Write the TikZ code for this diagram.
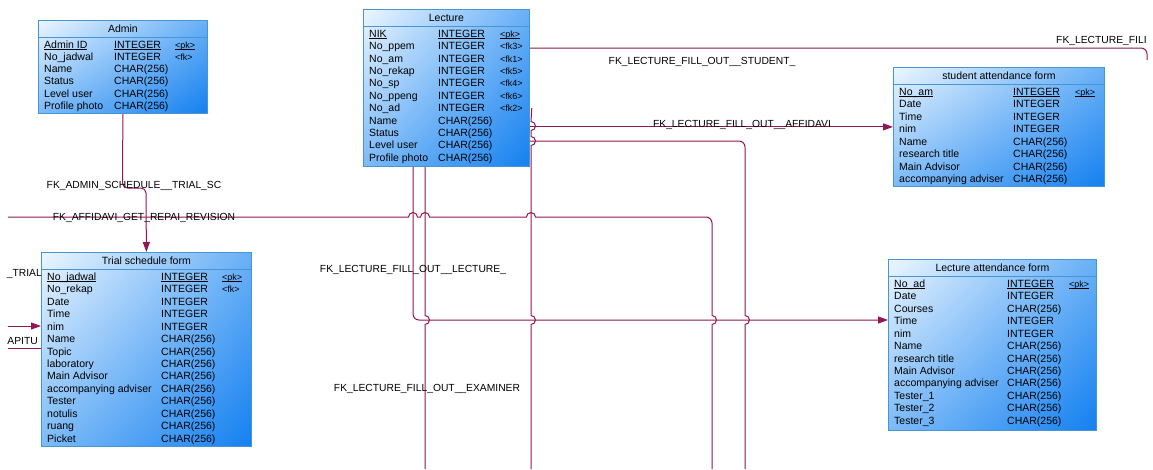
\documentclass[tikz,border=0pt]{standalone}
\usepackage{fontspec}
\setmainfont{Liberation Sans}
\usetikzlibrary{arrows.meta, positioning, shadings, calc}
\definecolor{fkline}{RGB}{145,22,82}
\definecolor{tblborder}{RGB}{70,150,215}
\definecolor{tblpale}{RGB}{236,246,255}
\definecolor{tblmid}{RGB}{105,176,246}
\definecolor{tbldeep}{RGB}{20,128,240}
% primary key underline, just under the baseline
\newcommand{\pkul}[1]{\setbox0\hbox{#1}\rlap{\rule[-1.3pt]{\wd0}{0.55pt}}#1}

\begin{document}
\begin{tikzpicture}[
  x=1pt, y=1pt,
  tbl/.style={rectangle, draw=tblborder, line width=0.8pt, inner sep=0pt, anchor=north west,
              upper left=tblpale, upper right=tblmid, lower left=tblmid!85!tblpale, lower right=tbldeep},
  ttl/.style={anchor=base, inner sep=0pt, font=\fontsize{10.5}{12}\selectfont},
  fld/.style={anchor=base west, inner sep=0pt, font=\fontsize{10.5}{12}\selectfont},
  fkey/.style={anchor=base west, inner sep=0pt, font=\fontsize{9}{10}\selectfont},
  sepline/.style={draw=tblborder, line width=0.8pt},
  fk/.style={draw=fkline, line width=1pt},
  fkarrow/.style={fk, -{Triangle[length=10pt, width=7pt]}},
  fklbl/.style={anchor=base, inner sep=0pt, font=\fontsize{10.3}{12}\selectfont}
]
\useasboundingbox (0,0) rectangle (1153,-469);

% Admin
\node[tbl, minimum width=169pt, minimum height=93pt] (admin) at (38,-20) {};
\node[ttl] (admin-ttl) at ([yshift=-12.6pt]admin.north) {Admin};
\draw[sepline] ([yshift=-17pt]admin.north west) -- ([yshift=-17pt]admin.north east);
\foreach \fname/\ftype/\fmark [count=\i from 0] in {
  \pkul{Admin ID}/\pkul{INTEGER}/\pkul{<pk>}, No\_jadwal/INTEGER/{<fk>},
  Name/CHAR(256)/{}, Status/CHAR(256)/{}, Level user/CHAR(256)/{}, Profile photo/CHAR(256)/{}}{
  \node[fld] (admin-n\i) at ([shift={(6,-28.3-12.2*\i)}]admin.north west) {\fname};
  \node[fld] (admin-t\i) at ([shift={(76,-28.3-12.2*\i)}]admin.north west) {\ftype};
  \node[fkey] (admin-k\i) at ([shift={(137,-28.3-12.2*\i)}]admin.north west) {\fmark};
}

% Lecture
\node[tbl, minimum width=166pt, minimum height=157pt] (lecture) at (363,-9) {};
\node[ttl] (lecture-ttl) at ([yshift=-12.6pt]lecture.north) {Lecture};
\draw[sepline] ([yshift=-17pt]lecture.north west) -- ([yshift=-17pt]lecture.north east);
\foreach \fname/\ftype/\fmark [count=\i from 0] in {
  \pkul{NIK}/\pkul{INTEGER}/\pkul{<pk>}, No\_ppem/INTEGER/{<fk3>},
  No\_am/INTEGER/{<fk1>}, No\_rekap/INTEGER/{<fk5>}, No\_sp/INTEGER/{<fk4>},
  No\_ppeng/INTEGER/{<fk6>}, No\_ad/INTEGER/{<fk2>}, Name/CHAR(256)/{},
  Status/CHAR(256)/{}, Level user/CHAR(256)/{}, Profile photo/CHAR(256)/{}}{
  \node[fld] (lecture-n\i) at ([shift={(6,-28.3-12.4*\i)}]lecture.north west) {\fname};
  \node[fld] (lecture-t\i) at ([shift={(75,-28.3-12.4*\i)}]lecture.north west) {\ftype};
  \node[fkey] (lecture-k\i) at ([shift={(137,-28.3-12.4*\i)}]lecture.north west) {\fmark};
}

% student attendance form
\node[tbl, minimum width=211pt, minimum height=119pt] (stud) at (893,-67) {};
\node[ttl] (stud-ttl) at ([yshift=-12.6pt]stud.north) {student attendance form};
\draw[sepline] ([yshift=-17pt]stud.north west) -- ([yshift=-17pt]stud.north east);
\foreach \fname/\ftype/\fmark [count=\i from 0] in {
  \pkul{No\_am}/\pkul{INTEGER}/\pkul{<pk>}, Date/INTEGER/{}, Time/INTEGER/{},
  nim/INTEGER/{}, Name/CHAR(256)/{}, research title/CHAR(256)/{},
  Main Advisor/CHAR(256)/{}, accompanying adviser/CHAR(256)/{}}{
  \node[fld] (stud-n\i) at ([shift={(6,-28.3-12.45*\i)}]stud.north west) {\fname};
  \node[fld] (stud-t\i) at ([shift={(120,-28.3-12.45*\i)}]stud.north west) {\ftype};
  \node[fkey] (stud-k\i) at ([shift={(182,-28.3-12.45*\i)}]stud.north west) {\fmark};
}

% Trial schedule form
\node[tbl, minimum width=210pt, minimum height=194pt] (trial) at (41,-252) {};
\node[ttl] (trial-ttl) at ([yshift=-12.6pt]trial.north) {Trial schedule form};
\draw[sepline] ([yshift=-17pt]trial.north west) -- ([yshift=-17pt]trial.north east);
\foreach \fname/\ftype/\fmark [count=\i from 0] in {
  \pkul{No\_jadwal}/\pkul{INTEGER}/\pkul{<pk>}, No\_rekap/INTEGER/{<fk>},
  Date/INTEGER/{}, Time/INTEGER/{}, nim/INTEGER/{}, Name/CHAR(256)/{}, Topic/CHAR(256)/{},
  laboratory/CHAR(256)/{}, Main Advisor/CHAR(256)/{}, accompanying adviser/CHAR(256)/{},
  Tester/CHAR(256)/{}, notulis/CHAR(256)/{}, ruang/CHAR(256)/{}, Picket/CHAR(256)/{}}{
  \node[fld] (trial-n\i) at ([shift={(6,-28.3-12.45*\i)}]trial.north west) {\fname};
  \node[fld] (trial-t\i) at ([shift={(120,-28.3-12.45*\i)}]trial.north west) {\ftype};
  \node[fkey] (trial-k\i) at ([shift={(181,-28.3-12.45*\i)}]trial.north west) {\fmark};
}

% Lecture attendance form
\node[tbl, minimum width=208pt, minimum height=171pt] (latt) at (888,-259) {};
\node[ttl] (latt-ttl) at ([yshift=-12.6pt]latt.north) {Lecture attendance form};
\draw[sepline] ([yshift=-17pt]latt.north west) -- ([yshift=-17pt]latt.north east);
\foreach \fname/\ftype/\fmark [count=\i from 0] in {
  \pkul{No\_ad}/\pkul{INTEGER}/\pkul{<pk>}, Date/INTEGER/{}, Courses/CHAR(256)/{},
  Time/INTEGER/{}, nim/INTEGER/{}, Name/CHAR(256)/{}, research title/CHAR(256)/{},
  Main Advisor/CHAR(256)/{}, accompanying adviser/CHAR(256)/{}, Tester\_1/CHAR(256)/{},
  Tester\_2/CHAR(256)/{}, Tester\_3/CHAR(256)/{}}{
  \node[fld] (latt-n\i) at ([shift={(6,-28.3-12.45*\i)}]latt.north west) {\fname};
  \node[fld] (latt-t\i) at ([shift={(119,-28.3-12.45*\i)}]latt.north west) {\ftype};
  \node[fkey] (latt-k\i) at ([shift={(181,-28.3-12.45*\i)}]latt.north west) {\fmark};
}

% loose ends at the border
\coordinate (lftA) at (8,-217);
\coordinate (lftB) at (8,-326);
\coordinate (lftC) at (8,-348);
\coordinate (topR) at (1147,-60);
\coordinate (botA) at (425,-469);
\coordinate (botB) at (531,-469);
\coordinate (botC) at (712,-469);
\coordinate (botD) at (745,-469);

% references
\draw[fkarrow] (admin.south) -- (122.5,-183) arc[start angle=180, end angle=270, radius=5]
  -- (141,-188) arc[start angle=90, end angle=0, radius=5] -- (trial.north);
\draw[fk] (lftA) -- (408.5,-217) arc[start angle=180, end angle=0, radius=4.5]
  -- (420.5,-217) arc[start angle=180, end angle=0, radius=4.5]
  -- (526.5,-217) arc[start angle=180, end angle=0, radius=4.5]
  -- (706,-217) arc[start angle=90, end angle=0, radius=6]
  -- (712,-315.5) arc[start angle=90, end angle=-90, radius=4.5] -- (botC);
\draw[fkarrow] ([xshift=50pt]lecture.south west) -- (413,-314)
  arc[start angle=180, end angle=270, radius=6] -- ([yshift=-61pt]latt.north west);
\draw[fk] ([xshift=62pt]lecture.south west) -- (425,-315.5)
  arc[start angle=90, end angle=-90, radius=4.5] -- (botA);
\draw[fk] ([shift={(2pt,-99pt)}]lecture.north east) -- (531,-121.5)
  arc[start angle=90, end angle=-90, radius=4.5] -- (531,-136.5)
  arc[start angle=90, end angle=-90, radius=4.5] -- (531,-315.5)
  arc[start angle=90, end angle=-90, radius=4.5] -- (botB);
\draw[fkarrow] (lecture.east |- stud.west) -- (stud.west);
\draw[fk] ([yshift=-132pt]lecture.north east) -- (739,-141)
  arc[start angle=90, end angle=0, radius=6] -- (745,-315.5)
  arc[start angle=90, end angle=-90, radius=4.5] -- (botD);
\draw[fk] ([yshift=-39pt]lecture.north east) -- (1141,-48)
  arc[start angle=90, end angle=0, radius=6] -- (topR);
\draw[fkarrow] (lftB) -- ([yshift=-74pt]trial.north west);
\draw[fk] (lftC) -- ([yshift=-96pt]trial.north west);

% reference names
\node[fklbl, anchor=base west] (lbl-fill) at (1056,-43.6) {FK\_LECTURE\_FILI};
\node[fklbl] (lbl-student) at (702,-64.6) {FK\_LECTURE\_FILL\_OUT\_\_STUDENT\_};
\node[fklbl] (lbl-affid) at (742,-127.6) {FK\_LECTURE\_FILL\_OUT\_\_AFFIDAVI};
\node[fklbl] (lbl-admin) at (134,-188.6) {FK\_ADMIN\_SCHEDULE\_\_TRIAL\_SC};
\node[fklbl] (lbl-revis) at (144,-220.6) {FK\_AFFIDAVI\_GET\_REPAI\_REVISION};
\node[fklbl] (lbl-lect) at (413,-272.6) {FK\_LECTURE\_FILL\_OUT\_\_LECTURE\_};
\node[fklbl] (lbl-exam) at (427,-391.6) {FK\_LECTURE\_FILL\_OUT\_\_EXAMINER};
\node[fklbl, anchor=base east] (lbl-trial) at (42,-276.6) {\_TRIAL};
\node[fklbl, anchor=base east] (lbl-apitu) at (38,-344.6) {APITU};
\end{tikzpicture}
\end{document}
